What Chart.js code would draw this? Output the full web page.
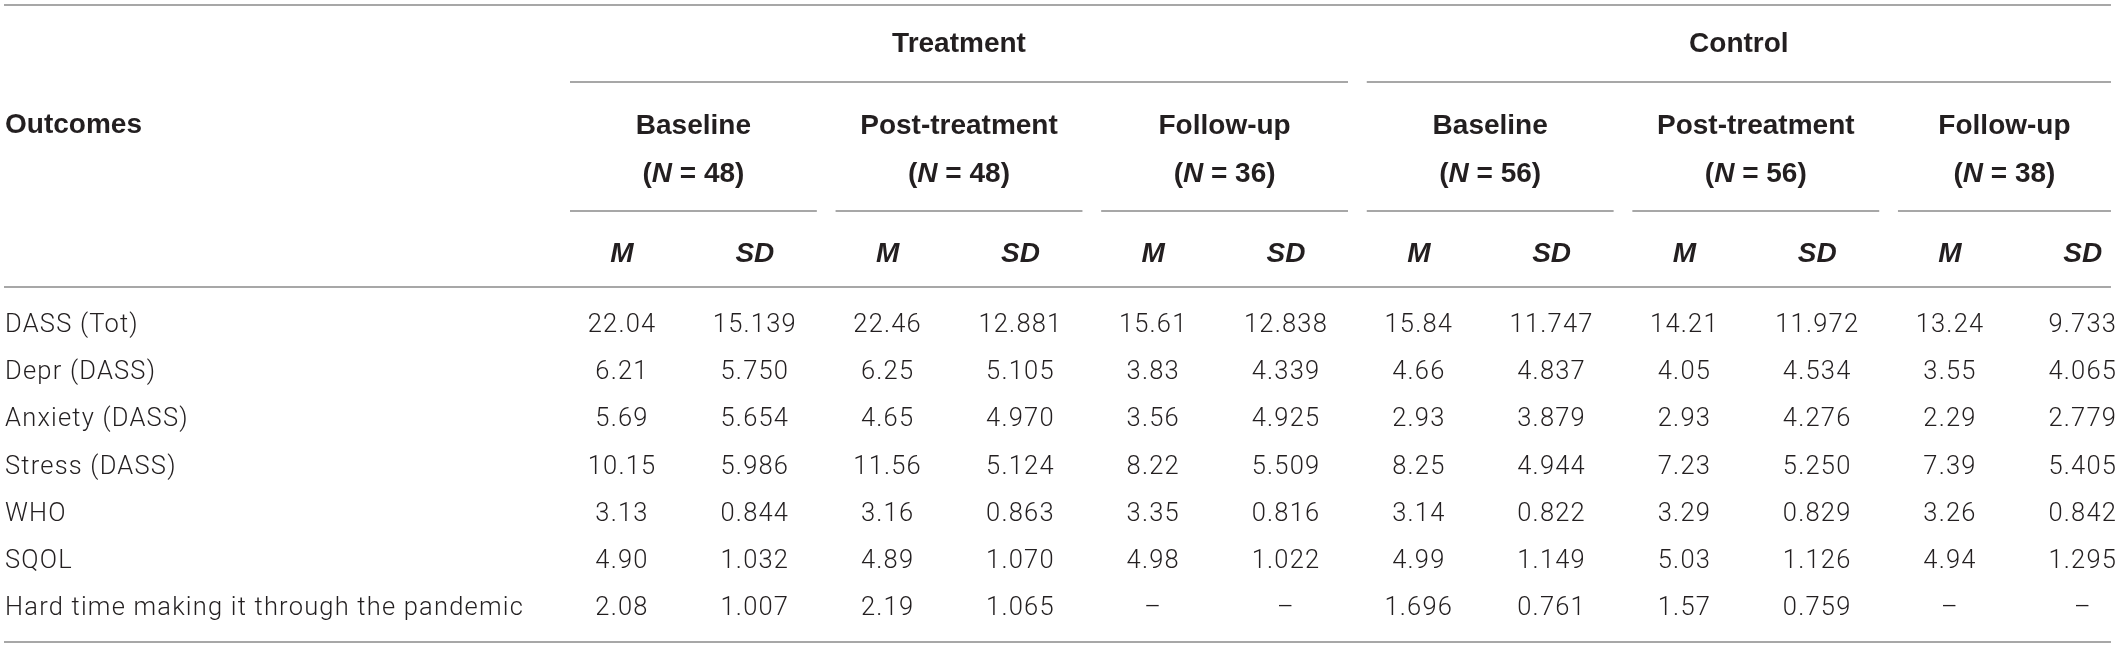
<!DOCTYPE html>
<html>
<head>
<meta charset="utf-8">
<script src="https://cdn.jsdelivr.net/npm/chart.js@4/dist/chart.umd.min.js"></script>
<style>
  html, body { margin: 0; padding: 0; background: #ffffff; }
  #wrap { width: 2118px; height: 648px; }
</style>
</head>
<body>
<div id="wrap"><canvas id="c" width="2118" height="648"></canvas></div>
<script>
// ---------- DATA ----------
const outcomes = ["DASS (Tot)", "Depr (DASS)", "Anxiety (DASS)", "Stress (DASS)", "WHO", "SQOL",
                  "Hard time making it through the pandemic"];
const stubHeader = "Outcomes";
const groups = ["Treatment", "Control"];
const timepoints = ["Baseline", "Post-treatment", "Follow-up"];
const sampleSizes = [48, 48, 36, 56, 56, 38];
const stats = ["M", "SD"];

const treatBaselineM  = ["22.04", "6.21", "5.69", "10.15", "3.13", "4.90", "2.08"];
const treatBaselineSD = ["15.139", "5.750", "5.654", "5.986", "0.844", "1.032", "1.007"];
const treatPostM      = ["22.46", "6.25", "4.65", "11.56", "3.16", "4.89", "2.19"];
const treatPostSD     = ["12.881", "5.105", "4.970", "5.124", "0.863", "1.070", "1.065"];
const treatFollowM    = ["15.61", "3.83", "3.56", "8.22", "3.35", "4.98", "–"];
const treatFollowSD   = ["12.838", "4.339", "4.925", "5.509", "0.816", "1.022", "–"];
const ctrlBaselineM   = ["15.84", "4.66", "2.93", "8.25", "3.14", "4.99", "1.696"];
const ctrlBaselineSD  = ["11.747", "4.837", "3.879", "4.944", "0.822", "1.149", "0.761"];
const ctrlPostM       = ["14.21", "4.05", "2.93", "7.23", "3.29", "5.03", "1.57"];
const ctrlPostSD      = ["11.972", "4.534", "4.276", "5.250", "0.829", "1.126", "0.759"];
const ctrlFollowM     = ["13.24", "3.55", "2.29", "7.39", "3.26", "4.94", "–"];
const ctrlFollowSD    = ["9.733", "4.065", "2.779", "5.405", "0.842", "1.295", "–"];

const columns = [treatBaselineM, treatBaselineSD, treatPostM, treatPostSD, treatFollowM, treatFollowSD,
                 ctrlBaselineM, ctrlBaselineSD, ctrlPostM, ctrlPostSD, ctrlFollowM, ctrlFollowSD];

// ---------- LAYOUT (scale units: x = column index, y = row index) ----------
const LAYOUT = {
  xMin: -3.684, xMax: 12.265, yMin: -6.843, yMax: 6.886,
  labelX: -3.646, ruleLeft: -3.654, ruleRight: 12.212,
  rules: { top: -6.737, group: -5.106, sub: -2.373, head: -0.763, bottom: 6.758 },
  textRows: { group: -5.953, time: -4.216, n: -3.199, stat: -1.504, stub: -4.236 },
  padL: 0.392, padR: 0.467
};
const STYLE = {
  ink: "#231f20", rule: "#8a8a8a", ruleWidth: 1.5,
  headSize: 28, headFamily: '"Liberation Sans", Arial, sans-serif',
  bodySize: 25.5, bodyWeight: 300, bodyFamily: 'Roboto, "Liberation Sans", sans-serif', bodySpacing: "1.2px"
};

const datasets = columns.map((col, ci) => ({
  label: groups[Math.floor(ci / 6)] + " " + timepoints[Math.floor(ci / 2) % 3] + " " + stats[ci % 2],
  data: col.map((v, ri) => ({ x: ci + 1, y: ri, text: v })),
  pointRadius: 0, pointHoverRadius: 0, showLine: false
}));

const tablePlugin = {
  id: "tableDraw",
  afterDraw(chart) {
    const ctx = chart.ctx, xs = chart.scales.x, ys = chart.scales.y;
    const px = v => xs.getPixelForValue(v), py = v => ys.getPixelForValue(v);
    ctx.save();
    // rules
    ctx.strokeStyle = STYLE.rule; ctx.lineWidth = STYLE.ruleWidth;
    const hline = (x0, x1, y) => { ctx.beginPath(); ctx.moveTo(px(x0), py(y)); ctx.lineTo(px(x1), py(y)); ctx.stroke(); };
    hline(LAYOUT.ruleLeft, LAYOUT.ruleRight, LAYOUT.rules.top);
    hline(LAYOUT.ruleLeft, LAYOUT.ruleRight, LAYOUT.rules.head);
    hline(LAYOUT.ruleLeft, LAYOUT.ruleRight, LAYOUT.rules.bottom);
    const groupSpan = g => [g * 6 + 1 - LAYOUT.padL, Math.min(g * 6 + 6 + LAYOUT.padR, LAYOUT.ruleRight)];
    const subSpan = k => [2 * k + 1 - LAYOUT.padL, Math.min(2 * k + 2 + LAYOUT.padR, LAYOUT.ruleRight)];
    groups.forEach((g, gi) => { const s = groupSpan(gi); hline(s[0], s[1], LAYOUT.rules.group); });
    sampleSizes.forEach((n, k) => { const s = subSpan(k); hline(s[0], s[1], LAYOUT.rules.sub); });

    ctx.fillStyle = STYLE.ink;
    ctx.textBaseline = "alphabetic";
    const hb = (it) => (it ? "italic " : "") + "bold " + STYLE.headSize + "px " + STYLE.headFamily;
    const headOff = STYLE.headSize * 0.358;
    const rich = (parts, cx, cy) => {
      ctx.letterSpacing = "0px";
      let w = 0;
      parts.forEach(p => { ctx.font = hb(p.it); p.w = ctx.measureText(p.t).width; w += p.w; });
      let x = cx - w / 2;
      ctx.textAlign = "left";
      parts.forEach(p => { ctx.font = hb(p.it); ctx.fillText(p.t, x, cy + headOff); x += p.w; });
    };
    // stub header
    ctx.font = hb(false); ctx.textAlign = "left"; ctx.letterSpacing = "0px";
    ctx.fillText(stubHeader, px(LAYOUT.labelX), py(LAYOUT.textRows.stub) + headOff);
    // group headers
    groups.forEach((g, gi) => { const s = groupSpan(gi); rich([{ t: g }], (px(s[0]) + px(s[1])) / 2, py(LAYOUT.textRows.group)); });
    // timepoints + N
    sampleSizes.forEach((n, k) => {
      const s = subSpan(k), cx = (px(s[0]) + px(s[1])) / 2;
      rich([{ t: timepoints[k % 3] }], cx, py(LAYOUT.textRows.time));
      rich([{ t: "(" }, { t: "N", it: true }, { t: " = " + n + ")" }], cx, py(LAYOUT.textRows.n));
    });
    // M / SD
    columns.forEach((c, ci) => rich([{ t: stats[ci % 2], it: true }], px(ci + 1), py(LAYOUT.textRows.stat)));

    // body
    const bodyFont = STYLE.bodyWeight + " " + STYLE.bodySize + "px " + STYLE.bodyFamily;
    const bodyOff = STYLE.bodySize * 0.355;
    ctx.font = bodyFont; ctx.letterSpacing = STYLE.bodySpacing;
    ctx.textAlign = "left";
    outcomes.forEach((o, ri) => ctx.fillText(o, px(LAYOUT.labelX), py(ri) + bodyOff));
    chart.data.datasets.forEach((ds, di) => {
      const meta = chart.getDatasetMeta(di);
      meta.data.forEach((el, i) => {
        const t = ds.data[i].text;
        const w = ctx.measureText(t).width;
        ctx.fillText(t, el.x - w / 2, el.y + bodyOff);
      });
    });
    ctx.restore();
  }
};

new Chart(document.getElementById("c"), {
  type: "scatter",
  data: { datasets },
  options: {
    responsive: false, animation: false, devicePixelRatio: 1,
    layout: { padding: 0 },
    plugins: { legend: { display: false }, tooltip: { enabled: false } },
    events: [],
    scales: {
      x: { type: "linear", min: LAYOUT.xMin, max: LAYOUT.xMax, display: false },
      y: { type: "linear", min: LAYOUT.yMin, max: LAYOUT.yMax, reverse: true, display: false }
    }
  },
  plugins: [tablePlugin]
});
</script>
</body>
</html>
